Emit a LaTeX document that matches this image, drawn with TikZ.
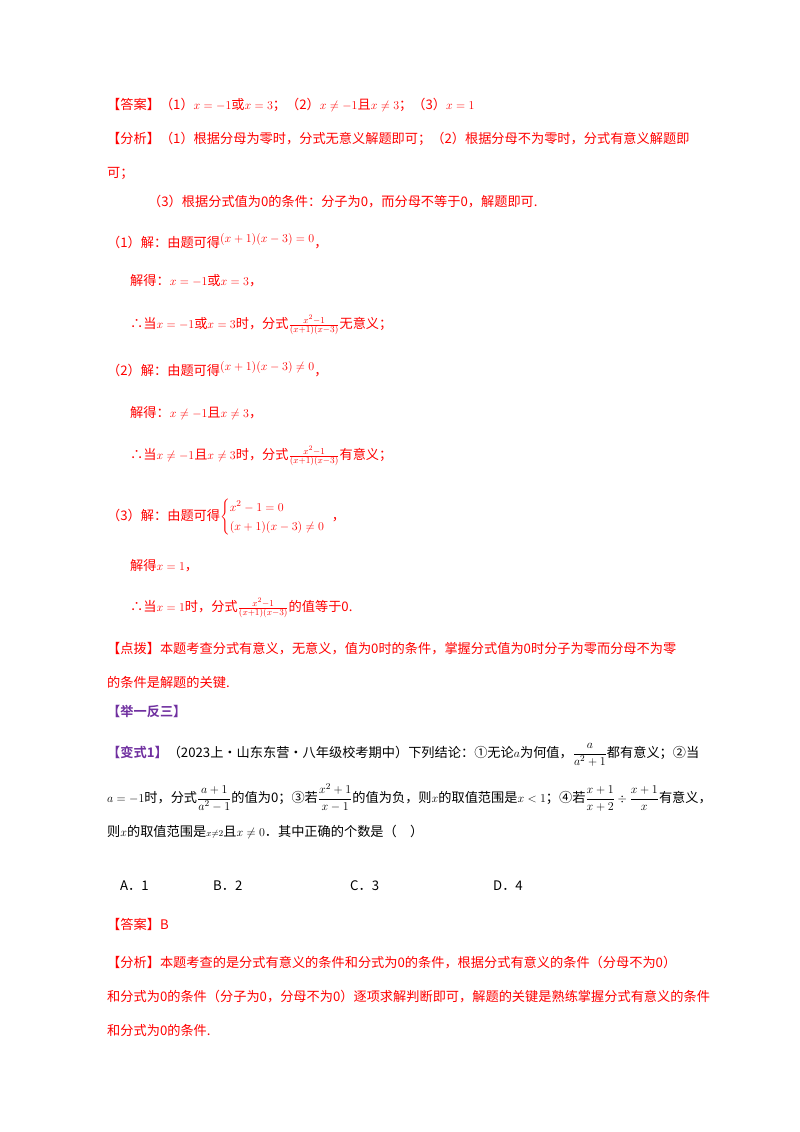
\documentclass[tikz,border=0pt]{standalone}
\usepackage{amsmath}
\usepackage{fontspec}
\setmainfont{Noto Sans CJK SC}
\newfontfamily\cjkbold{Noto Sans CJK SC Bold}
\definecolor{ared}{RGB}{255,0,0}
\definecolor{apurple}{RGB}{112,48,160}
\begin{document}
\begin{tikzpicture}[x=1pt,y=-1pt,
  every node/.style={anchor=base west,inner sep=0pt,font=\fontsize{13.2}{16}\selectfont},
  rt/.style={text=ared},
  bt/.style={text=black}]
\useasboundingbox (0,0) rectangle (800,1132);
\fill[white] (0,0) rectangle (800,1132);
\node[rt] (l1) at (107,109) {【答案】（1）$x=-1$或$x=3$；（2）$x\neq-1$且$x\neq3$；（3）$x=1$};
\node[rt] (l2) at (107,143) {【分析】（1）根据分母为零时，分式无意义解题即可；（2）根据分母不为零时，分式有意义解题即};
\node[rt] (l3) at (107,177) {可；};
\node[rt] (l4) at (148,206) {（3）根据分式值为0的条件：分子为0，而分母不等于0，解题即可.};
\node[rt] (l5) at (107,247) {（1）解：由题可得\raisebox{5pt}{$(x+1)(x-3)=0$}，};
\node[rt] (l6) at (130,285) {解得：$x=-1$或$x=3$，};
\node[rt] (l7) at (130,328) {∴当$x=-1$或$x=3$时，分式$\frac{x^2-1}{(x+1)(x-3)}$无意义；};
\node[rt] (l8) at (107,375) {（2）解：由题可得\raisebox{5pt}{$(x+1)(x-3)\neq0$}，};
\node[rt] (l9) at (130,417) {解得：$x\neq-1$且$x\neq3$，};
\node[rt] (l10) at (130,459) {∴当$x\neq-1$且$x\neq3$时，分式$\frac{x^2-1}{(x+1)(x-3)}$有意义；};
\node[rt] (l11) at (107,520) {（3）解：由题可得$\begin{cases}x^2-1=0\\(x+1)(x-3)\neq0\end{cases}$\!\!\!，};
\node[rt] (l12) at (130,570) {解得$x=1$，};
\node[rt] (l13) at (130,611) {∴当$x=1$时，分式$\frac{x^2-1}{(x+1)(x-3)}$的值等于0.};
\node[rt] (l14) at (107,653) {【点拨】本题考查分式有意义，无意义，值为0时的条件，掌握分式值为0时分子为零而分母不为零};
\node[rt] (l15) at (107,687) {的条件是解题的关键.};
\node[text=apurple,font=\fontsize{13.2}{16}\cjkbold] (l16) at (107,716) {【举一反三】};
\node[bt] (l17) at (107,757) {{\cjkbold\color{apurple}【变式1】}（2023上·山东东营·八年级校考期中）下列结论：①无论$a$为何值，$\dfrac{a}{a^2+1}$都有意义；②当};
\node[bt] (l18) at (107,802) {$a=-1$时，分式$\dfrac{a+1}{a^2-1}$的值为0；③若$\dfrac{x^2+1}{x-1}$的值为负，则$x$的取值范围是$x<1$；④若$\dfrac{x+1}{x+2}\div\dfrac{x+1}{x}$有意义，};
\node[bt] (l19) at (107,836) {则$x$的取值范围是$\scriptstyle x\neq2$且$x\neq0$．其中正确的个数是（\quad ）};
\node[bt] (a) at (120,890) {A．1};
\node[bt] (b) at (213,890) {B．2};
\node[bt] (c) at (350,890) {C．3};
\node[bt] (d) at (493,890) {D．4};
\node[rt] (l20) at (107,929) {【答案】B};
\node[rt] (l21) at (107,967) {【分析】本题考查的是分式有意义的条件和分式为0的条件，根据分式有意义的条件（分母不为0）};
\node[rt] (l22) at (107,1001) {和分式为0的条件（分子为0，分母不为0）逐项求解判断即可，解题的关键是熟练掌握分式有意义的条件};
\node[rt] (l23) at (107,1035) {和分式为0的条件.};
\end{tikzpicture}
\end{document}
